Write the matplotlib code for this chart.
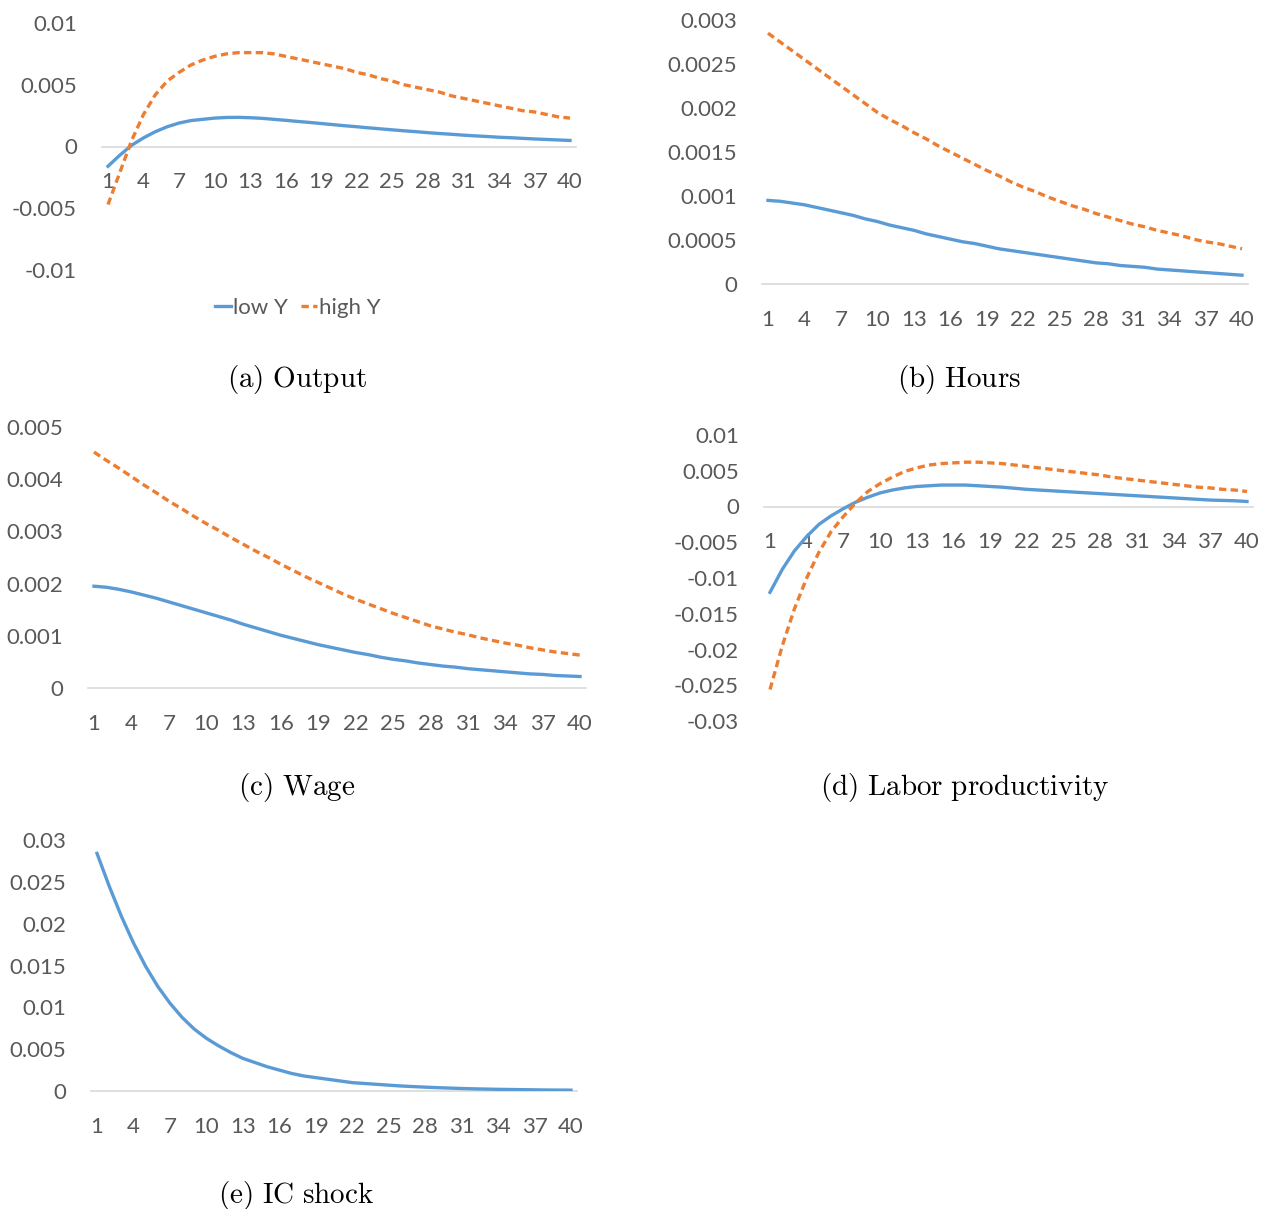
import matplotlib
matplotlib.use('Agg')
import matplotlib.pyplot as plt
from matplotlib.ticker import FuncFormatter
from matplotlib.lines import Line2D

plt.rcParams['font.family'] = ['Lato', 'DejaVu Sans']
plt.rcParams['mathtext.fontset'] = 'cm'

periods = list(range(1, 41))
xtick_vals = list(range(1, 41, 3))

# (a) Output
output_low = [-0.0016, -0.0007, 0.0001, 0.0007, 0.0012, 0.0016, 0.0019, 0.0021, 0.0022, 0.0023,
              0.00235, 0.00236, 0.00233, 0.00228, 0.00220, 0.00212, 0.00203, 0.00195, 0.00186, 0.00177,
              0.00168, 0.00160, 0.00151, 0.00143, 0.00135, 0.00127, 0.00120, 0.00112, 0.00105, 0.00099,
              0.00092, 0.00086, 0.00081, 0.00075, 0.00071, 0.00066, 0.00061, 0.00057, 0.00053, 0.00049]
output_high = [-0.0047, -0.0021, 0.0005, 0.0026, 0.0042, 0.0053, 0.0060, 0.0066, 0.0070, 0.0073,
               0.0075, 0.0076, 0.0076, 0.0076, 0.0075, 0.0073, 0.0071, 0.0069, 0.0067, 0.0065,
               0.0063, 0.0060, 0.0058, 0.0055, 0.0053, 0.0050, 0.0048, 0.0046, 0.0044, 0.0041,
               0.0039, 0.0037, 0.0035, 0.0033, 0.0031, 0.0029, 0.0028, 0.0026, 0.0024, 0.0023]

# (b) Hours
hours_low = [0.00095, 0.00094, 0.00092, 0.00090, 0.00087, 0.00084, 0.00081, 0.00078, 0.00074, 0.00071,
             0.00067, 0.00064, 0.00061, 0.00057, 0.00054, 0.00051, 0.00048, 0.00046, 0.00043, 0.00040,
             0.00038, 0.00036, 0.00034, 0.00032, 0.00030, 0.00028, 0.00026, 0.00024, 0.00023, 0.00021,
             0.00020, 0.00019, 0.00017, 0.00016, 0.00015, 0.00014, 0.00013, 0.00012, 0.00011, 0.00010]
hours_high = [0.00285, 0.00275, 0.00265, 0.00255, 0.00245, 0.00235, 0.00225, 0.00215, 0.00205, 0.00195,
              0.00187, 0.00180, 0.00172, 0.00165, 0.00157, 0.00150, 0.00143, 0.00136, 0.00129, 0.00123,
              0.00116, 0.00110, 0.00105, 0.00099, 0.00094, 0.00089, 0.00085, 0.00080, 0.00076, 0.00072,
              0.00068, 0.00065, 0.00061, 0.00058, 0.00055, 0.00051, 0.00048, 0.00046, 0.00043, 0.00040]

# (c) Wage
wage_low = [0.00195, 0.00193, 0.00189, 0.00184, 0.00178, 0.00172, 0.00165, 0.00158, 0.00151, 0.00144,
            0.00137, 0.00130, 0.00122, 0.00115, 0.00108, 0.00101, 0.00095, 0.00089, 0.00083, 0.00078,
            0.00073, 0.00068, 0.00064, 0.00059, 0.00055, 0.00052, 0.00048, 0.00045, 0.00042, 0.00040,
            0.00037, 0.00035, 0.00033, 0.00031, 0.00029, 0.00027, 0.00026, 0.00024, 0.00023, 0.00022]
wage_high = [0.00452, 0.00436, 0.00421, 0.00405, 0.00389, 0.00374, 0.00358, 0.00344, 0.00329, 0.00315,
             0.00302, 0.00288, 0.00275, 0.00262, 0.00250, 0.00237, 0.00225, 0.00213, 0.00202, 0.00191,
             0.00180, 0.00170, 0.00161, 0.00152, 0.00143, 0.00135, 0.00127, 0.00119, 0.00113, 0.00107,
             0.00102, 0.00096, 0.00091, 0.00086, 0.00082, 0.00077, 0.00073, 0.00069, 0.00066, 0.00063]

# (d) Labor productivity
prod_low = [-0.0120, -0.0088, -0.0062, -0.0042, -0.0025, -0.0013, -0.0003, 0.0006, 0.0013, 0.0019,
            0.0023, 0.0026, 0.0028, 0.0029, 0.0030, 0.0030, 0.0030, 0.0029, 0.0028, 0.0027,
            0.00255, 0.0024, 0.0023, 0.0022, 0.0021, 0.0020, 0.0019, 0.0018, 0.0017, 0.0016,
            0.0015, 0.0014, 0.0013, 0.0012, 0.0011, 0.0010, 0.0009, 0.00085, 0.0008, 0.0007]
prod_high = [-0.0256, -0.0195, -0.0143, -0.0100, -0.0064, -0.0035, -0.0014, 0.0005, 0.0021, 0.0032,
             0.0041, 0.0049, 0.0054, 0.0058, 0.0060, 0.0061, 0.0062, 0.0062, 0.0061, 0.0060,
             0.0058, 0.0056, 0.0054, 0.0052, 0.0050, 0.0048, 0.0046, 0.0044, 0.0041, 0.0039,
             0.0037, 0.0035, 0.0033, 0.0031, 0.0029, 0.0027, 0.0026, 0.0024, 0.0023, 0.0021]

# (e) IC shock
ic_shock = [0.0284, 0.0245, 0.0209, 0.0177, 0.0149, 0.0125, 0.0105, 0.0088, 0.0074, 0.0063,
            0.0054, 0.0046, 0.0039, 0.0034, 0.0029, 0.0025, 0.0021, 0.0018, 0.0016, 0.0014,
            0.0012, 0.0010, 0.0009, 0.0008, 0.0007, 0.0006, 0.00053, 0.00046, 0.0004, 0.00035,
            0.0003, 0.00026, 0.00023, 0.0002, 0.00018, 0.00016, 0.00014, 0.00012, 0.00011, 0.0001]

yticks_a = [-0.01, -0.005, 0, 0.005, 0.01]
yticks_b = [0, 0.0005, 0.001, 0.0015, 0.002, 0.0025, 0.003]
yticks_c = [0, 0.001, 0.002, 0.003, 0.004, 0.005]
yticks_d = [-0.03, -0.025, -0.02, -0.015, -0.01, -0.005, 0, 0.005, 0.01]
yticks_e = [0, 0.005, 0.01, 0.015, 0.02, 0.025, 0.03]

BLUE = '#5B9BD5'
ORANGE = '#ED7D31'
GREY = '#595959'
LW = 2.4
W, H = 1277, 1209

fig = plt.figure(figsize=(W / 100, H / 100), dpi=100)


def make_ax(x1, x40, top, bot):
    # pixel positions of category 1, category 40, top tick and bottom tick
    sp = (x40 - x1) / 39
    left, right = x1 - sp / 2, x40 + sp / 2
    return fig.add_axes([left / W, 1 - bot / H, (right - left) / W, (bot - top) / H])


def style(ax, yticks):
    ax.set_xlim(0.5, 40.5)
    ax.set_ylim(yticks[0], yticks[-1])
    ax.set_yticks(yticks)
    ax.yaxis.set_major_formatter(FuncFormatter(lambda v, p: '{:g}'.format(round(v, 6) + 0.0)))
    ax.set_xticks(xtick_vals)
    ax.set_xticklabels([str(t) for t in xtick_vals])
    for s in ['left', 'top', 'right']:
        ax.spines[s].set_visible(False)
    ax.spines['bottom'].set_position(('data', 0))
    ax.spines['bottom'].set_color('#D9D9D9')
    ax.spines['bottom'].set_linewidth(1.2)
    ax.tick_params(axis='y', length=0, pad=18, labelsize=16, labelcolor=GREY)
    ax.tick_params(axis='x', length=0, pad=18.5, labelsize=16, labelcolor=GREY)
    ax.patch.set_visible(False)


def caption(x, y, txt):
    fig.text(x / W, 1 - y / H, txt, ha='center', va='center', fontsize=21)


def low(ax, y):
    ax.plot(periods, y, color=BLUE, lw=LW, zorder=3)


def high(ax, y):
    ax.plot(periods, y, color=ORANGE, lw=LW, dashes=(2.2, 1.3), zorder=3)


ax = make_ax(108, 570, 23, 270)
low(ax, output_low)
high(ax, output_high)
style(ax, yticks_a)
caption(297, 379, r'$\mathrm{(a)\ Output}$')

ax = make_ax(768, 1242, 20, 284)
low(ax, hours_low)
high(ax, hours_high)
style(ax, yticks_b)
caption(959, 379, r'$\mathrm{(b)\ Hours}$')

ax = make_ax(94, 580, 427, 688)
low(ax, wage_low)
high(ax, wage_high)
style(ax, yticks_c)
caption(297, 787, r'$\mathrm{(c)\ Wage}$')

ax = make_ax(770, 1247, 435, 721)
low(ax, prod_low)
high(ax, prod_high)
style(ax, yticks_d)
caption(965, 787, r'$\mathrm{(d)\ Labor\ productivity}$')

ax = make_ax(97, 571, 840, 1091)
low(ax, ic_shock)
style(ax, yticks_e)
caption(296, 1195, r'$\mathrm{(e)\ IC\ shock}$')

handles = [Line2D([], [], color=BLUE, lw=LW),
           Line2D([], [], color=ORANGE, lw=LW, dashes=(2.2, 1.3))]
fig.legend(handles, ['low Y', 'high Y'], loc='center', bbox_to_anchor=(298 / W, 1 - 308 / H),
           ncol=2, frameon=False, handlelength=0.7, handletextpad=0.1, columnspacing=0.6,
           fontsize=16, labelcolor=GREY)

fig.savefig('out.png', dpi=100)
